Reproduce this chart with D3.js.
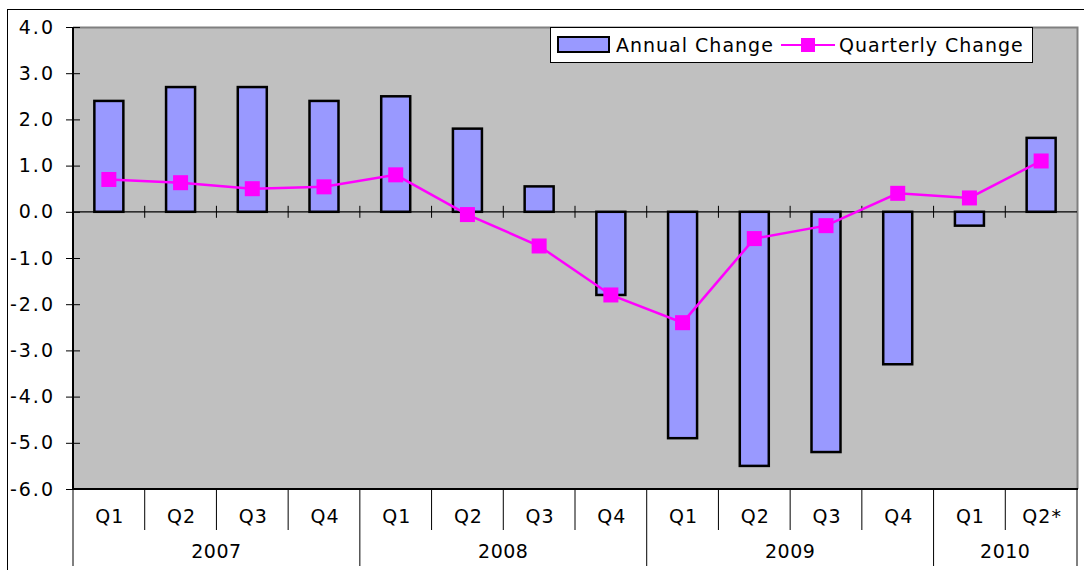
<!DOCTYPE html>
<html>
<head>
<meta charset="utf-8">
<script src="https://cdn.jsdelivr.net/npm/d3@7"></script>
<style>
  body { margin: 0; background: #fff; }
  text { font-family: Verdana, "DejaVu Sans", sans-serif; fill: #000; }
</style>
</head>
<body>
<div id="chart"></div>
<script>
// data
var years = ['2007', '2008', '2009', '2010'];
var quarters = ['Q1', 'Q2', 'Q3', 'Q4', 'Q1', 'Q2', 'Q3', 'Q4', 'Q1', 'Q2', 'Q3', 'Q4', 'Q1', 'Q2*'];
var quarterYear = ['2007', '2007', '2007', '2007', '2008', '2008', '2008', '2008', '2009', '2009', '2009', '2009', '2010', '2010'];
var annualChange = [2.4, 2.7, 2.7, 2.4, 2.5, 1.8, 0.55, -1.8, -4.9, -5.5, -5.2, -3.3, -0.3, 1.6];
var quarterlyChange = [0.7, 0.63, 0.5, 0.54, 0.8, -0.06, -0.74, -1.8, -2.4, -0.58, -0.3, 0.4, 0.3, 1.1];
var yTicks = [4, 3, 2, 1, 0, -1, -2, -3, -4, -5, -6];

var W = 1084, H = 570;
var plot = { left: 73, top: 27, right: 1077, bottom: 489 };
var fontSize = '19px';
var mk = 15; // marker size

var svg = d3.select('#chart').append('svg').attr('width', W).attr('height', H);

// outer border
svg.append('rect').attr('x', 7.5).attr('y', 9.5).attr('width', 1090).attr('height', 600)
  .attr('fill', 'none').attr('stroke', '#000').attr('stroke-width', 1);

var idx = d3.range(quarters.length);
var x = d3.scaleBand().domain(idx).range([plot.left, plot.right]).paddingInner(0).paddingOuter(0);
var y = d3.scaleLinear().domain([-6, 4]).range([plot.bottom, plot.top]);

// plot background
svg.append('rect').attr('x', plot.left).attr('y', plot.top)
  .attr('width', plot.right - plot.left).attr('height', plot.bottom - plot.top)
  .attr('fill', '#c0c0c0');
svg.append('path')
  .attr('d', 'M' + plot.left + ',' + (plot.top + 0.5) + 'H' + (plot.right + 0.5) + 'V' + plot.bottom)
  .attr('fill', 'none').attr('stroke', '#808080').attr('stroke-width', 2);

// y axis - plain hyphen for the minus sign, like the original
var fmt = function (d) { return d.toFixed(1); };
var yAxis = d3.axisLeft(y).tickValues(yTicks).tickFormat(fmt).tickSize(7).tickPadding(11);
var yg = svg.append('g').attr('transform', 'translate(' + plot.left + ',0)').call(yAxis);
yg.select('.domain').remove();
yg.selectAll('.tick line').attr('x1', -7).attr('x2', 7).attr('stroke', '#000');
yg.selectAll('.tick text')
  .style('font-size', fontSize).style('letter-spacing', '2px')
  .style('font-family', 'Verdana, "DejaVu Sans", sans-serif');
svg.append('line').attr('x1', plot.left).attr('x2', plot.left).attr('y1', plot.top).attr('y2', plot.bottom)
  .attr('stroke', '#000').attr('stroke-width', 2);

// bars
var barW = 29;
svg.append('g').selectAll('rect').data(annualChange).enter().append('rect')
  .attr('x', function (d, i) { return x(i) + x.bandwidth() / 2 - barW / 2; })
  .attr('y', function (d) { return y(Math.max(0, d)); })
  .attr('width', barW)
  .attr('height', function (d) { return Math.abs(y(d) - y(0)); })
  .attr('fill', '#9999ff').attr('stroke', '#000').attr('stroke-width', 2.5);

// zero line with ticks at category boundaries
svg.append('line').attr('x1', plot.left).attr('x2', plot.right).attr('y1', y(0)).attr('y2', y(0))
  .attr('stroke', '#000').attr('stroke-width', 1.2);
svg.append('g').selectAll('line').data(idx.slice(1)).enter().append('line')
  .attr('x1', function (i) { return x(i); }).attr('x2', function (i) { return x(i); })
  .attr('y1', y(0) - 6).attr('y2', y(0) + 6)
  .attr('stroke', '#000').attr('stroke-width', 1);

// bottom axis line
svg.append('line').attr('x1', plot.left).attr('x2', plot.right + 1).attr('y1', plot.bottom).attr('y2', plot.bottom)
  .attr('stroke', '#000').attr('stroke-width', 2);

// quarterly line + markers
var line = d3.line()
  .x(function (d, i) { return x(i) + x.bandwidth() / 2; })
  .y(function (d) { return y(d); });
svg.append('path').datum(quarterlyChange).attr('d', line)
  .attr('fill', 'none').attr('stroke', '#ff00ff').attr('stroke-width', 2.5);
svg.append('g').selectAll('rect').data(quarterlyChange).enter().append('rect')
  .attr('x', function (d, i) { return x(i) + x.bandwidth() / 2 - mk / 2; })
  .attr('y', function (d) { return y(d) - mk / 2; })
  .attr('width', mk).attr('height', mk)
  .attr('fill', '#ff00ff');

// category axis (two levels)
var catG = svg.append('g');
idx.forEach(function (i) {
  var first = i === 0 || quarterYear[i] !== quarterYear[i - 1];
  catG.append('line')
    .attr('x1', x(i)).attr('x2', x(i))
    .attr('y1', plot.bottom).attr('y2', first ? 566 : 530)
    .attr('stroke', '#000').attr('stroke-width', 1);
  catG.append('text')
    .attr('x', x(i) + x.bandwidth() / 2 + 1).attr('y', 523)
    .attr('text-anchor', 'middle').style('font-size', fontSize).style('letter-spacing', '1px')
    .text(quarters[i]);
});
catG.append('line').attr('x1', plot.right).attr('x2', plot.right)
  .attr('y1', plot.bottom).attr('y2', 566).attr('stroke', '#000').attr('stroke-width', 1);
years.forEach(function (yr) {
  var members = idx.filter(function (i) { return quarterYear[i] === yr; });
  var x0 = x(members[0]), x1 = x(members[members.length - 1]) + x.bandwidth();
  catG.append('text')
    .attr('x', (x0 + x1) / 2).attr('y', 558)
    .attr('text-anchor', 'middle').style('font-size', fontSize).style('letter-spacing', '0.5px')
    .text(yr);
});

// legend
var lg = svg.append('g').attr('transform', 'translate(550,27)');
lg.append('rect').attr('x', 0.5).attr('y', 0.5).attr('width', 482).attr('height', 35)
  .attr('fill', '#fff').attr('stroke', '#000').attr('stroke-width', 1);
lg.append('rect').attr('x', 8).attr('y', 10).attr('width', 51).attr('height', 15)
  .attr('fill', '#9999ff').attr('stroke', '#000').attr('stroke-width', 2);
lg.append('text').attr('x', 66).attr('y', 25).style('font-size', fontSize).style('letter-spacing', '1px')
  .text('Annual Change');
lg.append('line').attr('x1', 231).attr('x2', 285).attr('y1', 18).attr('y2', 18)
  .attr('stroke', '#ff00ff').attr('stroke-width', 2);
lg.append('rect').attr('x', 251).attr('y', 11).attr('width', 14).attr('height', 14).attr('fill', '#ff00ff');
lg.append('text').attr('x', 289).attr('y', 25).style('font-size', fontSize).style('letter-spacing', '1px')
  .text('Quarterly Change');
</script>
</body>
</html>
